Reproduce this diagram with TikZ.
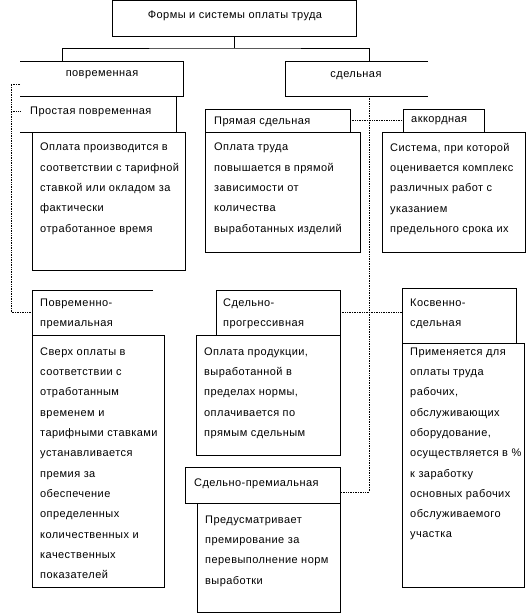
\documentclass[tikz,border=0pt]{standalone}
\usepackage{fontspec}
\setmainfont{Liberation Sans}[LetterSpace=4]
\usetikzlibrary{calc}
\tikzset{
 bxd/.style={draw=black, line width=0.8pt, inner sep=0pt, outer sep=0pt, anchor=north west},
 bxo/.style={inner sep=0pt, outer sep=0pt, anchor=north west},
 ln/.style={draw=black, line width=0.8pt},
 dln/.style={draw=black, line width=0.7pt, densely dotted},
 bodytxt/.style={inner sep=0pt, anchor=north west, align=left, font=\fontsize{11}{20.3}\selectfont},
 ttl/.style={inner sep=0pt, font=\fontsize{11}{13}\selectfont},
}
\begin{document}
\begin{tikzpicture}[x=1pt,y=-1pt]
\useasboundingbox (0,0) rectangle (528,615);
% top
\node[bxd, minimum width=244pt, minimum height=35.6pt] (top) at (112,0.4) {};
\node[ttl] (toptxt) at (235,16) {Формы и системы оплаты труда};
% level 1
\node[bxo, minimum width=163pt, minimum height=35pt] (pov) at (20,61) {};
\node[ttl] (povtxt) at (102,75) {повременная};
\draw[ln] (pov.north west) -| (pov.south east) -- (pov.south west);
\node[bxo, minimum width=143pt, minimum height=35pt] (sd) at (285,61) {};
\node[ttl] (sdtxt) at (356,76) {сдельная};
\draw[ln] (sd.north east) -- (sd.north west) -- (sd.south west) -- (sd.south east);
\coordinate (j) at ($(top.south)+(0,12)$);
\coordinate (p1) at ($(pov.north west)+(42,0)$);
\coordinate (p2) at ($(sd.north west)+(84,0)$);
\draw[ln] (top.south) -- (j);
\draw[ln] (p1) |- (j) -| (p2);
% Простая повременная
\node[bxo, minimum width=156pt, minimum height=36pt] (prh) at (20,96) {};
\node[ttl, anchor=west] (prhtxt) at (30,112) {Простая повременная};
\node[bxd, minimum width=153pt, minimum height=138pt] (prb) at (32,132) {};
\draw[ln] (prh.north east) -- (prh.south east);
\draw[ln] (prh.south west) -- (prb.north east);
\node[bodytxt] (prbtxt) at (40,143) {Оплата производится в\\соответствии с тарифной\\ставкой или окладом за\\фактически\\отработанное время};
% Прямая сдельная
\node[bxd, minimum width=145pt, minimum height=23pt] (psh) at (205,109) {};
\node[ttl, anchor=west] (pshtxt) at (214,122) {Прямая сдельная};
\node[bxd, minimum width=155pt, minimum height=120pt] (psb) at (205,132) {};
\node[bodytxt] (psbtxt) at (214,143) {Оплата труда\\повышается в прямой\\зависимости от\\количества\\выработанных изделий};
% аккордная
\node[bxd, minimum width=81pt, minimum height=23pt] (akh) at (403,109) {};
\node[ttl, anchor=west] (akhtxt) at (411,121) {аккордная};
\node[bxd, minimum width=143pt, minimum height=120pt] (akb) at (382,132) {};
\node[bodytxt] (akbtxt) at (390,143) {Система, при которой\\оценивается комплекс\\различных работ с\\указанием\\предельного срока их};
% Повременно-премиальная
\node[bxo, minimum width=121pt, minimum height=45pt] (pph) at (32,290) {};
\draw[ln] (pph.north east) -- (pph.north west) -- (pph.south west);
\node[bodytxt] (pphtxt) at (40,298.5) {Повременно-\\премиальная};
\node[bxd, minimum width=132pt, minimum height=252pt] (ppb) at (32,335) {};
\node[bodytxt] (ppbtxt) at (40,347.5) {Сверх оплаты в\\соответствии с\\отработанным\\временем и\\тарифными ставками\\устанавливается\\премия за\\обеспечение\\определенных\\количественных и\\качественных\\показателей};
% Сдельно-прогрессивная
\node[bxd, minimum width=124pt, minimum height=45pt] (sph) at (216,290) {};
\node[bodytxt] (sphtxt) at (223,298.5) {Сдельно-\\прогрессивная};
\node[bxd, minimum width=144pt, minimum height=120pt] (spb) at (196,335) {};
\node[bodytxt] (spbtxt) at (204,347.5) {Оплата продукции,\\выработанной в\\пределах нормы,\\оплачивается по\\прямым сдельным};
% Косвенно-сдельная
\node[bxd, minimum width=114pt, minimum height=55pt] (ksh) at (402,288) {};
\node[bodytxt] (kshtxt) at (410,298.5) {Косвенно-\\сдельная};
\node[bxd, minimum width=122pt, minimum height=244pt] (ksb) at (402,343) {};
\node[bodytxt] (ksbtxt) at (410,347.5) {Применяется для\\оплаты труда\\рабочих,\\обслуживающих\\оборудование,\\осуществляется в \%\\к заработку\\основных рабочих\\обслуживаемого\\участка};
% Сдельно-премиальная
\node[bxd, minimum width=155pt, minimum height=36pt] (sprh) at (185,467) {};
\node[ttl, anchor=west] (sprhtxt) at (194,484) {Сдельно-премиальная};
\node[bxd, minimum width=143pt, minimum height=109pt] (sprb) at (197,503) {};
\node[bodytxt] (sprbtxt) at (205,515.5) {Предусматривает\\премирование за\\перевыполнение норм\\выработки};
% dotted links, left
\coordinate (dl1) at ($(pov.south west)+(-9,-12)$);
\coordinate (dl2) at ($(prh.west)+(-9,-3)$);
\coordinate (dl3) at ($(pph.west)+(-21,0)$);
\draw[dln] ($(pov.south west)+(0,-12)$) -- (dl1) -- (dl3) -- (pph.west);
\draw[dln] (dl2) -- ($(prh.west)+(0,-3)$);
% dotted links, right
\coordinate (dr1) at ($(sprh.east)+(29,7)$);
\draw[dln] (p2 |- sd.south) -- (dr1) -- ($(sprh.east)+(0,7)$);
\draw[dln] (psh.east) -- (akh.west);
\draw[dln] (sph.east) -- (ksh.west |- sph.east);
\end{tikzpicture}
\end{document}
